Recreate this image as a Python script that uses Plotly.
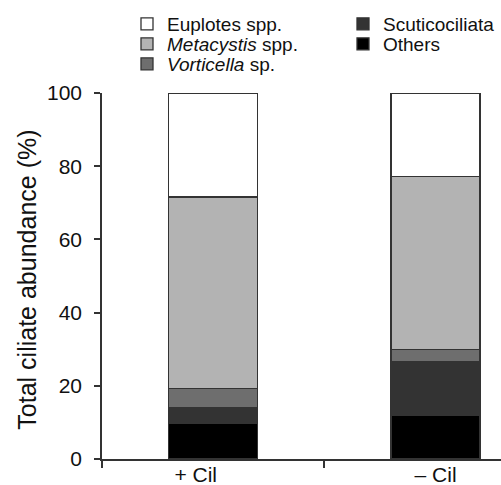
import plotly.graph_objects as go

categories = ["+ Cil", "\u2013 Cil"]
x_tick_text = ["+ Cil\u00a0\u00a0\u00a0\u00a0\u00a0\u00a0", "\u2013 Cil"]
series_names = ["Others", "Scuticociliata", "<i>Vorticella</i> sp.",
                "<i>Metacystis</i> spp.", "Euplotes spp."]
others = [9.8, 12.0]
scutico = [4.3, 14.5]
vorticella = [5.1, 3.5]
metacystis = [52.4, 47.2]
euplotes = [28.4, 22.8]
y_ticks = [0, 20, 40, 60, 80, 100]
y_title = "Total ciliate abundance (%)"

values = [others, scutico, vorticella, metacystis, euplotes]
colors = ["#000000", "#333333", "#6e6e6e", "#b3b3b3", "#ffffff"]
legend_ids = ["legend5", "legend4", "legend3", "legend2", "legend"]

FONT = "Liberation Sans, Arial, Helvetica, sans-serif"
W, H = 501, 485
ML, MR, MT, MB = 102, 0, 93, 26

fig = go.Figure()
for name, vals, col, lg in zip(series_names, values, colors, legend_ids):
    fig.add_trace(go.Bar(
        x=categories, y=vals, name=name, legend=lg,
        marker=dict(color=col, line=dict(color="#333333", width=1.3)),
        width=0.40,
    ))

# legend entry positions (pixels): left x, centre y
legend_pos = {
    "legend": (127, 24), "legend2": (127, 44), "legend3": (127, 64),
    "legend4": (343, 24), "legend5": (343, 44),
}
legend_layout = {}
for key, (px, py) in legend_pos.items():
    legend_layout[key] = dict(
        xref="container", yref="container", x=px / W, y=1 - py / H,
        xanchor="left", yanchor="middle", font=dict(size=19),
        bgcolor="rgba(0,0,0,0)", borderwidth=0,
    )

plot_w = W - ML - MR
fig.add_annotation(
    text=y_title, textangle=-90, showarrow=False,
    xref="paper", yref="paper", x=(27 - ML) / plot_w, y=0.49,
    xanchor="center", yanchor="middle", font=dict(size=25),
)

fig.update_layout(
    width=W, height=H,
    margin=dict(l=ML, r=MR, t=MT, b=MB, autoexpand=False),
    barmode="stack",
    plot_bgcolor="white", paper_bgcolor="white",
    font=dict(family=FONT, color="#111111", size=21),
    showlegend=True,
    xaxis=dict(
        range=[-0.5, 1.294], showline=True, linecolor="#333333", linewidth=1.5,
        ticks="outside", tickson="boundaries", ticklen=7, tickcolor="#333333",
        tickwidth=1.5, showgrid=False, zeroline=False,
        tickvals=categories, ticktext=x_tick_text,
        tickfont=dict(size=21), ticklabelstandoff=-4,
    ),
    yaxis=dict(
        range=[0, 100], tickvals=y_ticks, showline=True, linecolor="#333333",
        linewidth=1.5, ticks="outside", ticklen=6, tickcolor="#333333", tickwidth=1.5,
        showgrid=False, zeroline=False, tickfont=dict(size=21), ticklabelstandoff=8,
    ),
    **legend_layout,
)

fig.write_html("out.html", config={"displayModeBar": False},
               post_script="document.body.style.margin='0px';")
